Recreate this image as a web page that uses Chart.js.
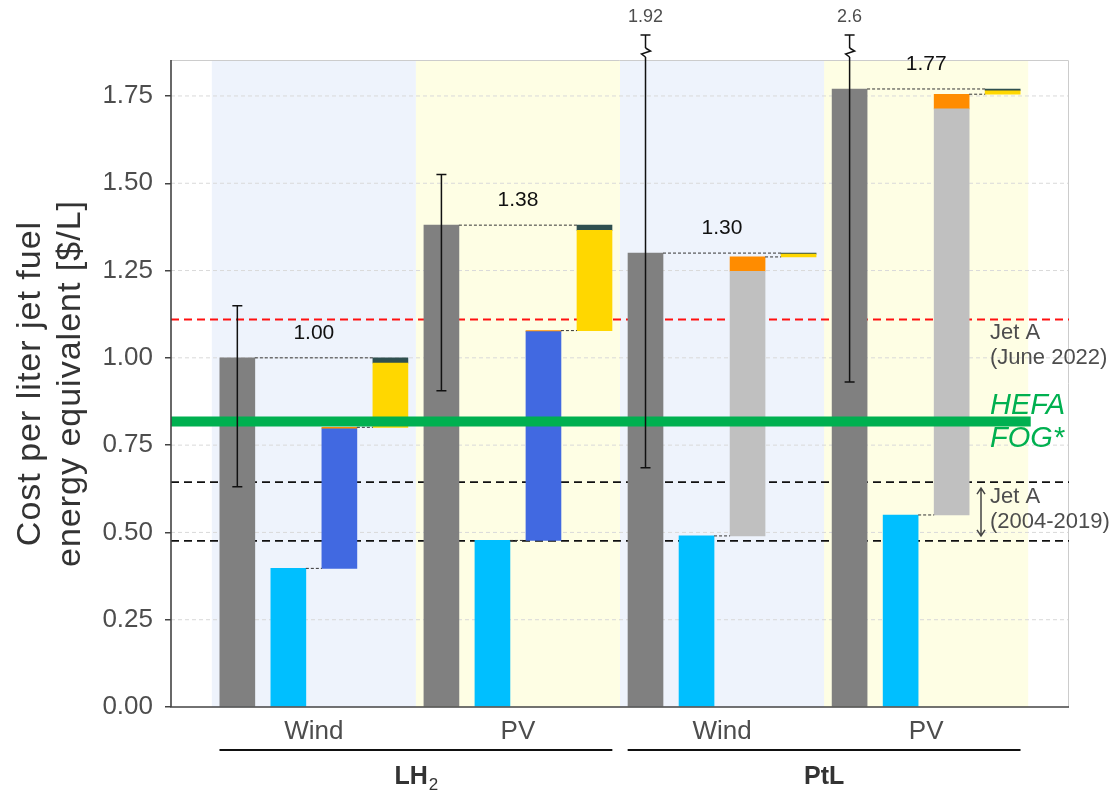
<!DOCTYPE html>
<html>
<head>
<meta charset="utf-8">
<script src="https://cdn.jsdelivr.net/npm/chart.js@4"></script>
<style>
  body { margin: 0; background: #fff; }
  canvas { display: block; }
</style>
</head>
<body>
<canvas id="costChart" width="1120" height="794"></canvas>
<script>
// values ($/L jet fuel equivalent)
const pathways = ["LH2", "PtL"];
const sources = ["Wind", "PV", "Wind", "PV"];
const totals = [1.00, 1.38, 1.30, 1.77];
const errLow = [0.631, 0.906, 0.685, 0.931];
const errHigh = [1.149, 1.525, 1.92, 2.6];
const h2Cost = [0.397, 0.477, 0.490, 0.550];          // cyan
const conversionCost = [0.400, 0.598, 0.758, 1.163];  // liquefaction (blue) / synthesis (silver)
const otherCost = [0.004, 0.003, 0.041, 0.042];       // orange
const transportCost = [0.184, 0.287, 0.008, 0.010];   // yellow
const storageCost = [0.015, 0.015, 0.003, 0.005];     // dark slate
const jetAJune2022 = 1.11;
const jetARange = [0.476, 0.644];
const hefaFog = 0.818;
const yTicks = [0, 0.25, 0.5, 0.75, 1.0, 1.25, 1.5, 1.75];

const FONT = "'Liberation Sans', Arial, sans-serif";
const GREY_TXT = "#4d4d4d";

// cumulative tops for the waterfall
let top2 = h2Cost.map((v, i) => v + conversionCost[i]);
let top3 = top2.map((v, i) => v + otherCost[i]);
let top4 = top3.map((v, i) => v + transportCost[i]);
let top5 = top4.map((v, i) => v + storageCost[i]);

function floating(slot, lows, highs) {
    return sources.map((s, i) => ({ x: 4 * i + slot, y: [lows[i], highs[i]] }));
}

function barSet(label, data, color) {
    return { label: label, data: data, backgroundColor: color, barThickness: 35, grouped: false, borderWidth: 0 };
}

let datasets = [
    barSet("Total", floating(0, sources.map(() => 0), totals), "#808080"),
    barSet("H2", floating(1, sources.map(() => 0), h2Cost), "#00BFFF"),
    barSet("Conversion", floating(2, h2Cost, top2), sources.map((s, i) => i < 2 ? "#4169E1" : "#C0C0C0")),
    barSet("Other", floating(2, top2, top3), "#FF8C00"),
    barSet("Transport", floating(3, top3, top4), "#FFD700"),
    barSet("Storage", floating(3, top4, top5), "#2F4F4F")
];

function hline(ctx, x1, x2, y, color, width, dash) {
    ctx.save();
    ctx.strokeStyle = color;
    ctx.lineWidth = width;
    ctx.setLineDash(dash || []);
    ctx.beginPath();
    ctx.moveTo(x1, y);
    ctx.lineTo(x2, y);
    ctx.stroke();
    ctx.restore();
}

function text(ctx, str, x, y, font, color, align, spacing) {
    ctx.save();
    ctx.font = font;
    ctx.fillStyle = color;
    ctx.textAlign = align || "center";
    ctx.textBaseline = "middle";
    if (spacing) ctx.letterSpacing = spacing;
    ctx.fillText(str, x, y);
    ctx.restore();
}

const decorations = {
    id: "decorations",
    beforeDraw(chart) {
        let ctx = chart.ctx, area = chart.chartArea, xs = chart.scales.x;
        let panelColors = ["#EEF3FC", "#FEFEE4"];
        for (let p = 0; p < 4; p++) {
            let x1 = xs.getPixelForValue(4 * p - 0.5);
            let x2 = xs.getPixelForValue(4 * p + 3.5);
            ctx.fillStyle = panelColors[p % 2];
            ctx.fillRect(x1, area.top, x2 - x1, area.bottom - area.top);
        }
    },
    beforeDatasetsDraw(chart) {
        let ctx = chart.ctx, area = chart.chartArea, ys = chart.scales.y;
        yTicks.forEach(v => {
            if (v > 0) hline(ctx, area.left, area.right, ys.getPixelForValue(v), "#d9d9d9", 1, [4, 3]);
        });
        // light panel border top / right
        ctx.save();
        ctx.strokeStyle = "#cccccc";
        ctx.lineWidth = 1;
        ctx.beginPath();
        ctx.moveTo(area.left, area.top + 0.5);
        ctx.lineTo(area.right - 0.5, area.top + 0.5);
        ctx.lineTo(area.right - 0.5, area.bottom);
        ctx.stroke();
        ctx.restore();
        // Jet A reference lines
        hline(ctx, area.left, area.right, ys.getPixelForValue(jetAJune2022), "#FF1010", 2, [8, 5]);
        jetARange.forEach(v => hline(ctx, area.left, area.right, ys.getPixelForValue(v), "#111", 1.8, [8, 5]));
    },
    afterDatasetsDraw(chart) {
        let ctx = chart.ctx, area = chart.chartArea, xs = chart.scales.x, ys = chart.scales.y;
        let half = 17.5;

        // waterfall connectors
        sources.forEach((s, i) => {
            let px = k => xs.getPixelForValue(4 * i + k);
            hline(ctx, px(0) + half, px(3) - half, ys.getPixelForValue(totals[i]), "#333", 1, [3, 2]);
            hline(ctx, px(1) + half, px(2) - half, ys.getPixelForValue(h2Cost[i]), "#333", 1, [3, 2]);
            hline(ctx, px(2) + half, px(3) - half, ys.getPixelForValue(top3[i]), "#333", 1, [3, 2]);
        });

        // HEFA FOG band
        hline(ctx, area.left, xs.getPixelForValue(15.55), ys.getPixelForValue(hefaFog), "#00B050", 10);

        // error bars on the totals
        sources.forEach((s, i) => {
            let x = xs.getPixelForValue(4 * i);
            let broken = errHigh[i] > ys.max;
            let yLow = ys.getPixelForValue(errLow[i]);
            let yHigh = broken ? area.top - 25 : ys.getPixelForValue(errHigh[i]);
            ctx.save();
            ctx.strokeStyle = "#111";
            ctx.lineWidth = 1.5;
            ctx.beginPath();
            ctx.moveTo(x, yLow);
            ctx.lineTo(x, yHigh);
            ctx.moveTo(x - 5, yLow);
            ctx.lineTo(x + 5, yLow);
            ctx.moveTo(x - 5, yHigh);
            ctx.lineTo(x + 5, yHigh);
            ctx.stroke();
            if (broken) {
                let yb = area.top - 7;
                ctx.fillStyle = "#fff";
                ctx.fillRect(x - 3, yb - 5, 6, 9);
                ctx.beginPath();
                ctx.moveTo(x, yb - 5);
                ctx.lineTo(x + 5, yb - 2);
                ctx.lineTo(x - 4, yb + 1);
                ctx.lineTo(x, yb + 4);
                ctx.stroke();
                ctx.restore();
                text(ctx, String(errHigh[i]), x, yHigh - 18, "18px " + FONT, GREY_TXT);
            } else {
                ctx.restore();
            }
        });

        // total labels
        sources.forEach((s, i) => {
            text(ctx, totals[i].toFixed(2), xs.getPixelForValue(4 * i + 1.5),
                ys.getPixelForValue(totals[i]) - 25, "21px " + FONT, "#111");
        });

        // annotations on the right
        let ax = 990;
        let yRed = ys.getPixelForValue(jetAJune2022);
        text(ctx, "Jet A", ax, yRed + 14, "22px " + FONT, GREY_TXT, "left");
        text(ctx, "(June 2022)", ax, yRed + 39, "22px " + FONT, GREY_TXT, "left");
        let yG = ys.getPixelForValue(hefaFog);
        text(ctx, "HEFA", ax, yG - 15, "italic 29px " + FONT, "#00B050", "left");
        text(ctx, "FOG*", ax, yG + 18, "italic 29px " + FONT, "#00B050", "left");
        let yHi = ys.getPixelForValue(jetARange[1]), yLo = ys.getPixelForValue(jetARange[0]);
        text(ctx, "Jet A", ax, yHi + 15, "22px " + FONT, GREY_TXT, "left");
        text(ctx, "(2004-2019)", ax, yHi + 40, "22px " + FONT, GREY_TXT, "left");
        ctx.save();
        ctx.strokeStyle = "#444";
        ctx.lineWidth = 1.5;
        ctx.beginPath();
        let arx = 981, a1 = yHi + 6, a2 = yLo - 5;
        ctx.moveTo(arx, a1); ctx.lineTo(arx, a2);
        ctx.moveTo(arx - 4, a1 + 6); ctx.lineTo(arx, a1); ctx.lineTo(arx + 4, a1 + 6);
        ctx.moveTo(arx - 4, a2 - 6); ctx.lineTo(arx, a2); ctx.lineTo(arx + 4, a2 - 6);
        ctx.stroke();
        ctx.restore();
    },
    afterDraw(chart) {
        let ctx = chart.ctx, area = chart.chartArea, xs = chart.scales.x;
        // axes lines
        ctx.save();
        ctx.strokeStyle = "#444";
        ctx.lineWidth = 1.6;
        ctx.beginPath();
        ctx.moveTo(area.left, area.top);
        ctx.lineTo(area.left, area.bottom);
        ctx.lineTo(area.right, area.bottom);
        ctx.stroke();
        ctx.restore();

        // pathway group lines and labels
        pathways.forEach((g, k) => {
            let x1 = xs.getPixelForValue(8 * k - 0.35);
            let x2 = xs.getPixelForValue(8 * k + 7.35);
            hline(ctx, x1, x2, 750, "#111", 2);
            let cx = xs.getPixelForValue(8 * k + 3.5);
            if (g === "LH2") {
                ctx.save();
                ctx.font = "bold 25px " + FONT;
                let w1 = ctx.measureText("LH").width;
                ctx.font = "17px " + FONT;
                let w2 = ctx.measureText("2").width;
                ctx.restore();
                let sx = cx - (w1 + w2) / 2;
                text(ctx, "LH", sx, 777, "bold 25px " + FONT, "#333", "left");
                text(ctx, "2", sx + w1 + 1, 785, "17px " + FONT, "#333", "left");
            } else {
                text(ctx, g, cx, 777, "bold 25px " + FONT, "#333");
            }
        });

        // y axis title
        ctx.save();
        ctx.translate(0, (area.top + area.bottom) / 2);
        ctx.rotate(-Math.PI / 2);
        text(ctx, "Cost per liter jet fuel", 0, 31, "34px " + FONT, "#333", "center", "1px");
        text(ctx, "energy equivalent [$/L]", 0, 71, "34px " + FONT, "#333", "center", "1px");
        ctx.restore();
    }
};

new Chart(document.getElementById("costChart").getContext("2d"), {
    type: "bar",
    data: { datasets: datasets },
    options: {
        responsive: false,
        animation: false,
        devicePixelRatio: 1,
        layout: { padding: { top: 60, right: 51, left: 0, bottom: 0 } },
        plugins: { legend: { display: false }, tooltip: { enabled: false } },
        scales: {
            x: {
                type: "linear",
                offset: false,
                min: -1.3,
                max: 16.3,
                afterBuildTicks: scale => { scale.ticks = [1.5, 5.5, 9.5, 13.5].map(v => ({ value: v })); },
                afterFit: scale => { scale.height = 87; },
                grid: { display: false, drawTicks: false },
                border: { display: false },
                ticks: {
                    autoSkip: false,
                    maxRotation: 0,
                    padding: 9,
                    color: GREY_TXT,
                    font: { size: 26, family: FONT },
                    callback: (v, i) => sources[i]
                }
            },
            y: {
                min: 0,
                max: 1.853,
                afterBuildTicks: scale => { scale.ticks = yTicks.map(v => ({ value: v })); },
                afterFit: scale => { scale.width = 171; },
                grid: { drawOnChartArea: false, color: "#444", tickColor: "#444", tickLength: 6, lineWidth: 1.5 },
                border: { display: false },
                ticks: {
                    padding: 12,
                    color: GREY_TXT,
                    font: { size: 26, family: FONT },
                    callback: v => v.toFixed(2)
                }
            }
        }
    },
    plugins: [decorations]
});
</script>
</body>
</html>
